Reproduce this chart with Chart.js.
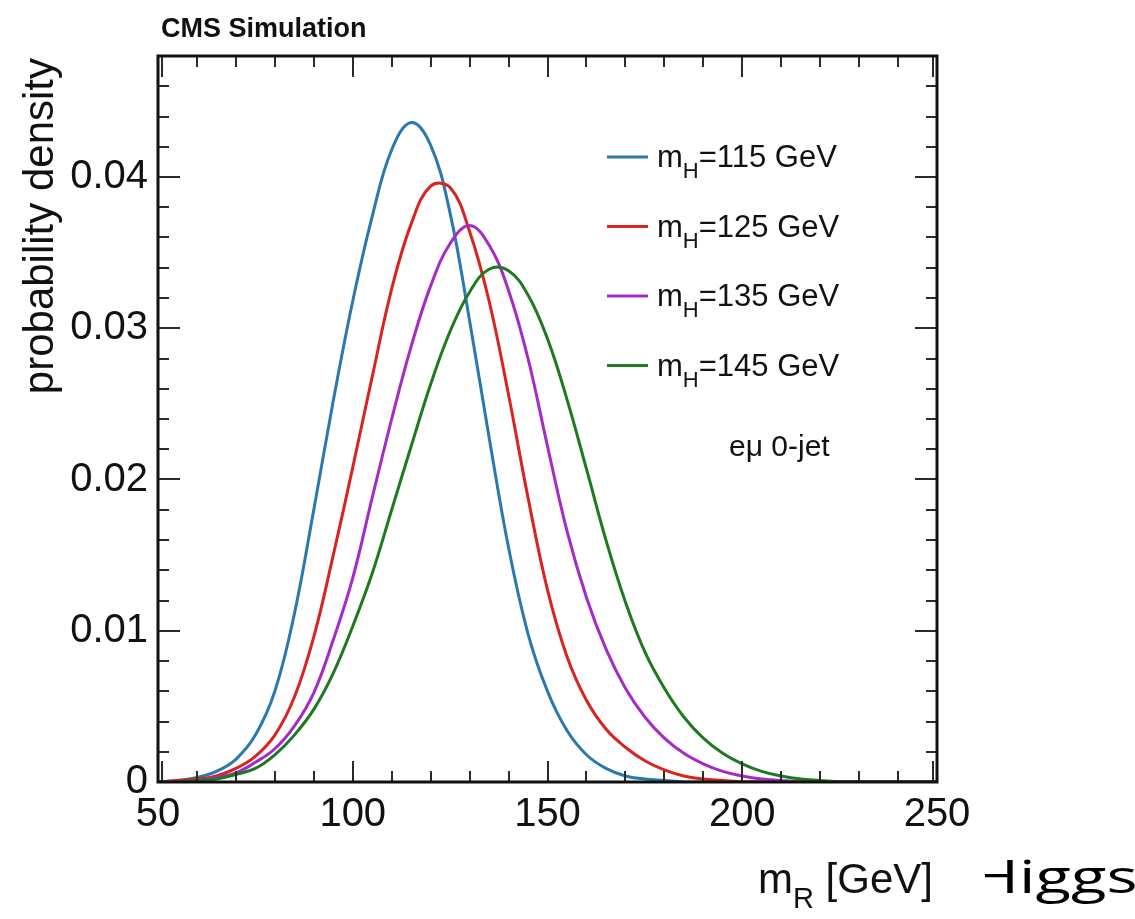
<!DOCTYPE html>
<html>
<head>
<meta charset="utf-8">
<title>CMS Simulation - m_R probability density</title>
<script src="https://cdn.jsdelivr.net/npm/chart.js@4.4.1/dist/chart.umd.min.js"></script>
<style>
  html, body { margin: 0; padding: 0; background: #fff; }
  #chart { display: block; }
</style>
</head>
<body>
<canvas id="chart" width="1135" height="919"></canvas>
<script>
// m_R grid (GeV)
const massPoints = [
  50, 55, 60, 65, 70, 75, 80, 85, 90, 95, 100, 105, 110, 115, 120, 125, 130,
  135, 140, 145, 150, 155, 160, 165, 170, 175, 180, 185, 190, 195, 200, 205,
  210, 215, 220, 225, 230, 235, 240, 245, 250,
];

// Higgs mass hypotheses
const higgsMasses = [115, 125, 135, 145];

// probability density
const density115 = [
  0, 0.0001, 0.0003, 0.0007, 0.0015, 0.0031, 0.006, 0.0111, 0.018, 0.0252,
  0.0318, 0.0374, 0.0418, 0.0436, 0.0421, 0.0376, 0.0305, 0.0228, 0.0155,
  0.0098, 0.006, 0.0034, 0.0018, 0.0009, 0.0004, 0.0002, 0.0001, 0, 0, 0, 0,
  0, 0, 0, 0, 0, 0, 0, 0, 0, 0,
];
const density125 = [
  0, 0.0001, 0.0002, 0.0004, 0.0009, 0.0017, 0.0031, 0.0056, 0.0096, 0.015,
  0.0208, 0.0268, 0.0326, 0.0369, 0.0394, 0.0393, 0.0364, 0.0318, 0.0256,
  0.0188, 0.0127, 0.0083, 0.0054, 0.0035, 0.0023, 0.0014, 0.0008, 0.0004,
  0.0002, 0.0001, 0, 0, 0, 0, 0, 0, 0, 0, 0, 0, 0,
];
const density135 = [
  0, 0, 0.0001, 0.0003, 0.0006, 0.0013, 0.0022, 0.0037, 0.0059, 0.0094, 0.0135,
  0.0188, 0.024, 0.0288, 0.0328, 0.0356, 0.0368, 0.0355, 0.0325, 0.028, 0.0222,
  0.0166, 0.0122, 0.0088, 0.0062, 0.0043, 0.0029, 0.0019, 0.0012, 0.0007,
  0.0004, 0.0002, 0.0001, 0, 0, 0, 0, 0, 0, 0, 0,
];
const density145 = [
  0, 0, 0.0001, 0.0002, 0.0005, 0.0009, 0.0018, 0.0031, 0.0048, 0.0072, 0.0103,
  0.0138, 0.018, 0.0222, 0.0263, 0.0298, 0.0324, 0.0339, 0.0338, 0.0322,
  0.0293, 0.0253, 0.0207, 0.016, 0.0119, 0.0086, 0.0062, 0.0043, 0.0029,
  0.0019, 0.0012, 0.0007, 0.0004, 0.0002, 0.0001, 0, 0, 0, 0, 0, 0,
];

const xTicks = [50, 100, 150, 200, 250];
const yTicks = [0, 0.01, 0.02, 0.03, 0.04];

const lineColors = ["#2a78b0", "#d9231f", "#a62ac6", "#1e7a1e"];
const FONT = '"Liberation Sans", Arial, Helvetica, sans-serif';

const allSeries = [density115, density125, density135, density145];

// text with one subscript piece, e.g. m_H
function drawSubText(ctx, base, sub, rest, x, y, size, align) {
  const subSize = Math.round(size * 0.7);
  ctx.font = `${size}px ${FONT}`;
  const wBase = ctx.measureText(base).width;
  const wRest = ctx.measureText(rest).width;
  ctx.font = `${subSize}px ${FONT}`;
  const wSub = ctx.measureText(sub).width;
  let cx = align === "right" ? x - (wBase + wSub + wRest) : x;
  ctx.textAlign = "left";
  ctx.textBaseline = "alphabetic";
  ctx.font = `${size}px ${FONT}`;
  ctx.fillText(base, cx, y);
  cx += wBase;
  ctx.font = `${subSize}px ${FONT}`;
  ctx.fillText(sub, cx, y + size * 0.36);
  cx += wSub;
  ctx.font = `${size}px ${FONT}`;
  ctx.fillText(rest, cx, y);
}

// frame and inside ticks on all four sides
const frameAndTicks = {
  id: "frameAndTicks",
  afterDatasetsDraw(chart) {
    const { ctx, chartArea: a, scales } = chart;
    const x = scales.x;
    const y = scales.y;
    ctx.save();
    ctx.strokeStyle = "#2b2b2b";
    ctx.lineWidth = 2;
    ctx.beginPath();
    for (let m = 50; m <= 250; m += 10) {
      let px = Math.round(x.getPixelForValue(m));
      if (m === 50) px += 4;
      if (m === 250) px -= 4;
      const len = m % 50 === 0 ? 21 : 11;
      ctx.moveTo(px, a.bottom);
      ctx.lineTo(px, a.bottom - len);
      ctx.moveTo(px, a.top);
      ctx.lineTo(px, a.top + len);
    }
    for (let i = 0; i <= 24; i++) {
      const py = Math.round(y.getPixelForValue(i * 0.002));
      const len = i % 5 === 0 ? 22 : 11;
      ctx.moveTo(a.left, py);
      ctx.lineTo(a.left + len, py);
      ctx.moveTo(a.right, py);
      ctx.lineTo(a.right - len, py);
    }
    ctx.stroke();
    ctx.strokeStyle = "#111";
    ctx.lineWidth = 3;
    ctx.strokeRect(a.left, a.top, a.right - a.left, a.bottom - a.top);
    ctx.restore();
  },
  afterDraw(chart) {
    const { ctx, chartArea: a } = chart;
    ctx.save();
    ctx.fillStyle = "#111";

    // header
    ctx.font = `bold 27px ${FONT}`;
    ctx.textAlign = "left";
    ctx.textBaseline = "alphabetic";
    ctx.fillText("CMS Simulation", 161, 37);

    // legend
    chart.data.datasets.forEach((ds, i) => {
      const ly = 157 + i * 69.5;
      ctx.strokeStyle = ds.borderColor;
      ctx.lineWidth = 3;
      ctx.beginPath();
      ctx.moveTo(607, ly);
      ctx.lineTo(648, ly);
      ctx.stroke();
      ctx.fillStyle = "#111";
      drawSubText(ctx, "m", "H", `=${higgsMasses[i]} GeV`, 657, ly + 10, 31, "left");
    });

    ctx.font = `30px ${FONT}`;
    ctx.textAlign = "left";
    ctx.fillText("e\u03bc 0-jet", 729, 456);

    // axis titles
    drawSubText(ctx, "m", "R", " [GeV]", a.right - 4, 893, 42, "right");

    ctx.save();
    ctx.translate(53, a.top + 2);
    ctx.rotate(-Math.PI / 2);
    ctx.font = `42px ${FONT}`;
    ctx.textAlign = "right";
    ctx.textBaseline = "alphabetic";
    ctx.fillText("probability density", 0, 0);
    ctx.restore();

    // cut-off word at the bottom right
    ctx.save();
    ctx.beginPath();
    ctx.rect(985, 820, 150, 99);
    ctx.clip();
    ctx.translate(971, 893);
    ctx.scale(1.45, 1);
    ctx.font = '400 45px "Open Sans", "DejaVu Sans", sans-serif';
    ctx.textAlign = "left";
    ctx.fillStyle = "#000";
    ctx.fillText("Higgs", 0, 0);
    ctx.restore();

    ctx.restore();
  },
};

const datasets = allSeries.map((series, i) => ({
  label: `mH=${higgsMasses[i]} GeV`,
  data: massPoints.map((m, k) => ({ x: m, y: series[k] })),
  borderColor: lineColors[i],
  borderWidth: 3,
  pointRadius: 0,
  fill: false,
  tension: 0.4,
  order: allSeries.length - i,
}));

new Chart(document.getElementById("chart"), {
  type: "line",
  data: { datasets },
  options: {
    responsive: false,
    animation: false,
    devicePixelRatio: 1,
    layout: { padding: { top: 56, right: 198, left: 0, bottom: 0 } },
    plugins: {
      legend: { display: false },
      title: { display: false },
      tooltip: { enabled: false },
    },
    scales: {
      x: {
        type: "linear",
        min: 50,
        max: 250,
        afterFit: (scale) => { scale.height = 137; },
        afterBuildTicks: (scale) => { scale.ticks = xTicks.map((v) => ({ value: v })); },
        grid: { display: false, drawTicks: false },
        border: { display: false },
        ticks: {
          padding: 9,
          maxRotation: 0,
          autoSkip: false,
          color: "#111",
          font: { family: FONT, size: 40 },
        },
      },
      y: {
        type: "linear",
        min: 0,
        max: 0.048,
        afterFit: (scale) => { scale.width = 158; },
        afterBuildTicks: (scale) => { scale.ticks = yTicks.map((v) => ({ value: v })); },
        grid: { display: false, drawTicks: false },
        border: { display: false },
        ticks: {
          padding: 10,
          color: "#111",
          font: { family: FONT, size: 40 },
          callback: (v) => (v === 0 ? "0" : v.toFixed(2)),
        },
      },
    },
  },
  plugins: [frameAndTicks],
});
</script>
</body>
</html>
